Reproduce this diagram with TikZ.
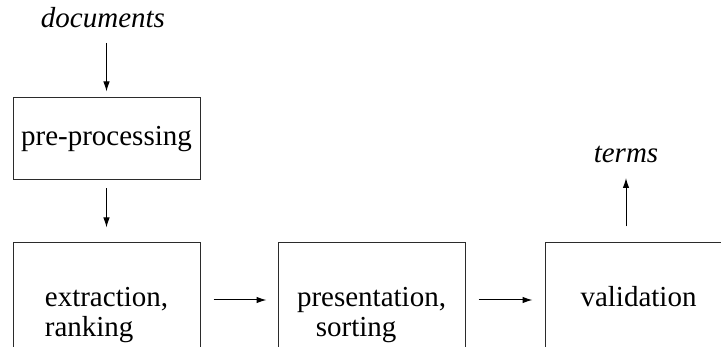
\documentclass[tikz,border=0pt]{standalone}
\usepackage{fontspec}
\setmainfont{Liberation Serif}[ItalicFont={Liberation Serif Italic}]
\usetikzlibrary{arrows.meta}
\definecolor{marco}{HTML}{2B2B2B}

\begin{document}
\begin{tikzpicture}[x=1pt, y=-1pt, >={Latex[length=10pt,width=6.5pt]},
  font=\fontsize{29pt}{30pt}\selectfont,
  etapa/.style={draw=marco, line width=1pt, minimum width=187pt, inner sep=0pt},
  rotulo/.style={anchor=base, font=\fontsize{29pt}{30pt}\selectfont\itshape},
  flujo/.style={->, line width=1pt}]
  \useasboundingbox (0,0) rectangle (721,347);
  \clip (0,0) rectangle (721,347);

  % Entrada y preprocesado
  \node[rotulo] (docs) at (103,28) {documents};
  \node[etapa, minimum height=82pt] (pre) at (106.5,139) {pre-processing};

  % Etapas inferiores (cortadas por el borde)
  \node[etapa, minimum height=144pt, align=left] (ext) at (106.5,315) {extraction,\\ranking};
  \node[etapa, minimum height=144pt, align=left] (pres) at (371.5,315) {presentation,\\\hspace*{0.65em}sorting};
  \node[etapa, minimum height=144pt, text depth=38pt] (val) at (638.5,315) {validation};

  % Salida
  \node[rotulo] (terms) at (626,163) {terms};

  % Flechas
  \draw[flujo, shorten <=15pt, shorten >=6pt] (pre.north |- docs.base) -- (pre.north);
  \draw[flujo, shorten <=8pt, shorten >=15pt] (pre.south) -- (ext.north);
  \draw[flujo, shorten <=13pt, shorten >=11pt] ([yshift=15pt]ext.east) -- ([yshift=15pt]pres.west);
  \draw[flujo, shorten <=13pt, shorten >=12pt] ([yshift=15pt]pres.east) -- ([yshift=15pt]val.west);
  \draw[flujo, shorten <=16pt, shorten >=15pt] (terms.base |- val.north) -- (terms.base);
\end{tikzpicture}
\end{document}
